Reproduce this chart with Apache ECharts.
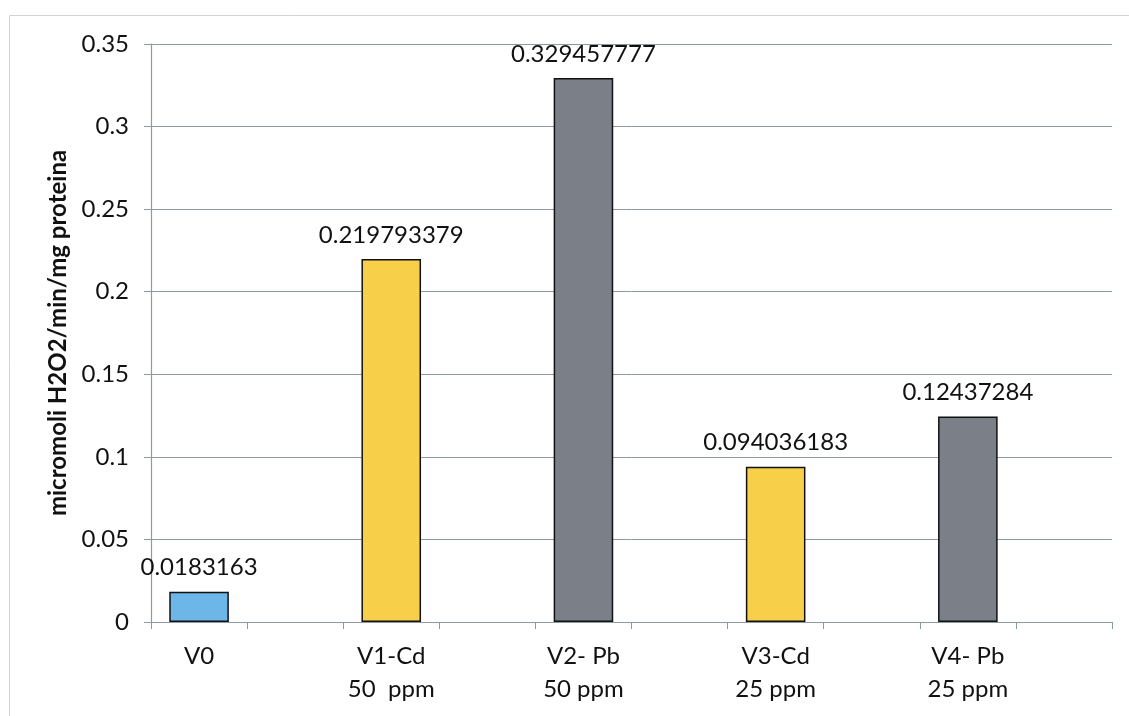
<!DOCTYPE html>
<html>
<head>
<meta charset="utf-8">
<script src="https://cdn.jsdelivr.net/npm/echarts@6/dist/echarts.min.js"></script>
<style>
  html, body { margin: 0; padding: 0; background: #fff; }
  #chart { width: 1129px; height: 716px; }
</style>
</head>
<body>
<div id="chart"></div>
<script>
// Treatment groups and their enzyme activity values
const groups = ['V0', 'V1-Cd\n50  ppm', 'V2- Pb\n50 ppm', 'V3-Cd\n25 ppm', 'V4- Pb\n25 ppm'];
const activity = [0.0183163, 0.219793379, 0.329457777, 0.094036183, 0.12437284];
const labelsText = ['0.0183163', '0.219793379', '0.329457777', '0.094036183', '0.12437284'];
const barColors = ['#6db6e8', '#f8cf48', '#7b8088', '#f8cf48', '#7b8088'];
const yTicks = { min: 0, max: 0.35, interval: 0.05 };

// Each group occupies one slot followed by an empty spacer slot
const axisCats = [];
const barData = [];
groups.forEach((g, i) => {
  axisCats.push(g);
  barData.push({
    value: activity[i],
    itemStyle: { color: barColors[i] },
    label: { formatter: labelsText[i] }
  });
  axisCats.push('');
  barData.push(null);
});

const font = 'Lato, "Open Sans", sans-serif';
const gridColor = '#8d9aa6';
const textColor = '#111';

const chart = echarts.init(document.getElementById('chart'));
chart.setOption({
  animation: false,
  backgroundColor: '#fff',
  graphic: [{
    type: 'rect',
    shape: { x: 9.5, y: 15.5, width: 1140, height: 740 },
    style: { fill: 'none', stroke: '#d2d2d2', lineWidth: 1 },
    silent: true
  }],
  grid: { left: 151, right: 17, top: 44, bottom: 94 },
  xAxis: {
    type: 'category',
    data: axisCats,
    axisLine: { lineStyle: { color: gridColor, width: 1.2 } },
    axisTick: { show: true, interval: 0, length: 7, lineStyle: { color: gridColor } },
    axisLabel: {
      interval: 0,
      margin: 18,
      color: textColor,
      fontFamily: font,
      fontSize: 24,
      lineHeight: 33,
      align: 'center',
      formatter: v => v
    },
    splitLine: { show: false }
  },
  yAxis: {
    type: 'value',
    min: yTicks.min,
    max: yTicks.max,
    interval: yTicks.interval,
    name: 'micromoli H2O2/min/mg proteina',
    nameLocation: 'middle',
    nameGap: 77,
    nameTextStyle: { fontFamily: font, fontSize: 24, fontWeight: 'bold', color: textColor },
    axisLine: { show: true, lineStyle: { color: gridColor, width: 1.2 } },
    axisTick: { show: true, length: 7, lineStyle: { color: gridColor } },
    axisLabel: {
      margin: 22,
      color: textColor,
      fontFamily: font,
      fontSize: 24,
      formatter: v => String(+v.toFixed(2))
    },
    splitLine: { show: true, lineStyle: { color: gridColor, width: 1 } }
  },
  series: [{
    type: 'bar',
    data: barData,
    barWidth: '62%',
    itemStyle: { borderColor: '#111', borderWidth: 1.5 },
    label: {
      show: true,
      position: 'top',
      distance: 12,
      color: textColor,
      fontFamily: font,
      fontSize: 24
    }
  }]
});
</script>
</body>
</html>
